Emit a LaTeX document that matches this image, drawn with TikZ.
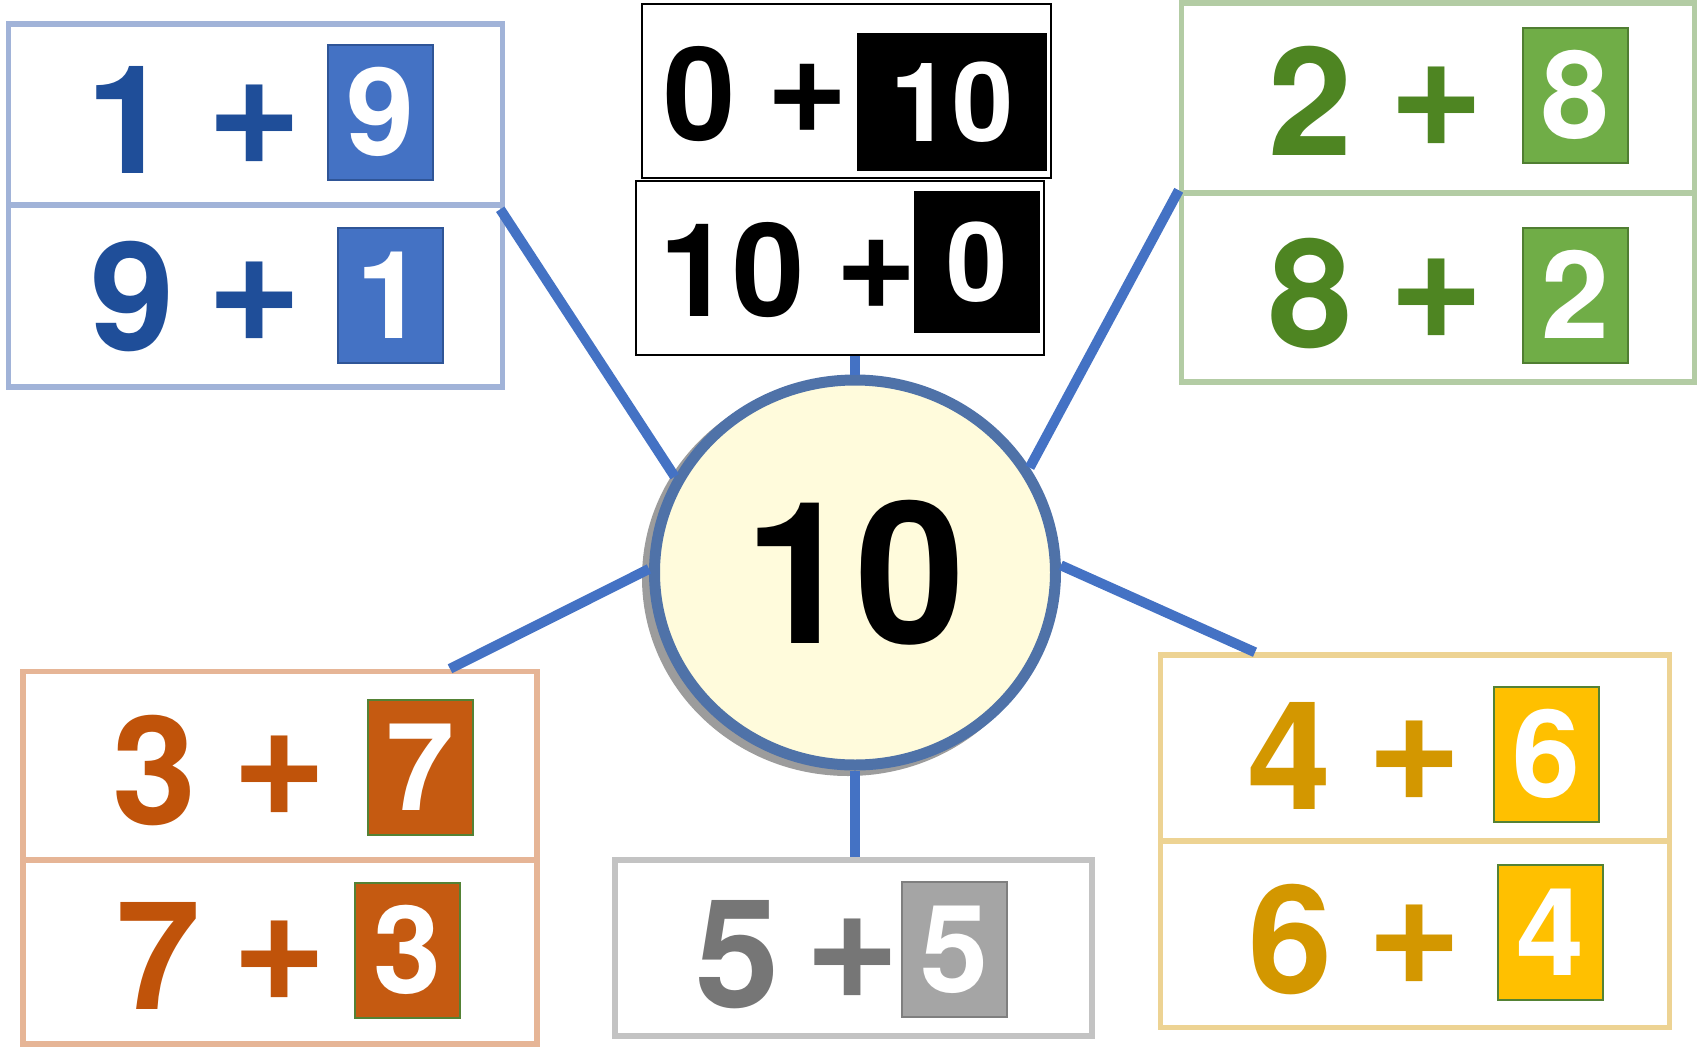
\documentclass[tikz,border=0pt]{standalone}
\usepackage{fontspec}
\setmainfont{TeX Gyre Heros}
\newfontfamily\plusfont{Liberation Sans}
\usetikzlibrary{calc,positioning,shapes.geometric}
\definecolor{linkblue}{HTML}{4472C4}
\definecolor{ringblue}{HTML}{4F72A8}
\definecolor{ringfill}{HTML}{FFFBDC}
\definecolor{shadegrey}{HTML}{9C9C9C}
\definecolor{blueFr}{HTML}{A1B3D8}\definecolor{blueTx}{HTML}{1F4E99}
\definecolor{blueFl}{HTML}{4472C4}\definecolor{blueBd}{HTML}{2F5597}
\definecolor{greenFr}{HTML}{B3CCA4}\definecolor{greenTx}{HTML}{4E8522}
\definecolor{greenFl}{HTML}{70AD47}\definecolor{greenBd}{HTML}{507E32}
\definecolor{orangeFr}{HTML}{E6B596}\definecolor{orangeTx}{HTML}{C0530A}
\definecolor{orangeFl}{HTML}{C55A11}\definecolor{orangeBd}{HTML}{548235}
\definecolor{greyFr}{HTML}{C3C3C3}\definecolor{greyTx}{HTML}{767676}
\definecolor{greyFl}{HTML}{A5A5A5}\definecolor{greyBd}{HTML}{7F7F7F}
\definecolor{goldFr}{HTML}{EDD393}\definecolor{goldTx}{HTML}{D39700}
\definecolor{goldFl}{HTML}{FFC000}\definecolor{goldBd}{HTML}{548235}
\tikzset{frame/.style={draw, line width=5.5pt, inner sep=0pt},
  num/.style={font=\bfseries\fontsize{#1}{#1}\selectfont, inner sep=0pt,
    text height={0.716*#1pt}, text depth=0pt},
  num/.default=151,
  plus/.style={num=#1, font=\plusfont\bfseries\fontsize{#1}{#1}\selectfont},
  plus/.default=151,
  ans/.style={num=#1, draw, line width=2pt, text=white,
    minimum width=105pt, minimum height=135pt},
  ans/.default=122,
  link/.style={draw=linkblue, line width=10pt}}

\begin{document}
\begin{tikzpicture}[x=1pt, y=-1pt]
  \useasboundingbox (0,0) rectangle (1701,1047);
  % frames, one per row
  \foreach \n/\g/\x/\y/\w/\h in {a1/blue/255.5/114.5/494/181, a2/blue/255.5/296/494/182,
      c1/green/1438/98/513/190, c2/green/1438/287.5/513/189,
      d1/orange/280/766/514/189, d2/orange/280/952/514/184,
      e/grey/853.5/948/477/176,
      f1/gold/1415/748/509/186, f2/gold/1415/934/509/187}
    \node[frame, draw=\g Fr, minimum width=\w, minimum height=\h] (\n) at (\x,\y) {};
  \node[frame, line width=2pt, minimum width=409, minimum height=174] (b1) at (846.5,91) {};
  \node[frame, line width=2pt, minimum width=408, minimum height=174] (b2) at (839.7,268) {};
  % sums: digit + boxed partner
  \foreach \n/\g/\dx/\px/\y/\d/\bx/\by/\b in {
      a1/blue/128/255/119/1/380/112/9, a2/blue/132/255/296/9/390/295/1,
      c1/green/1310/1437/101/2/1575/95/8, c2/green/1310/1437/293/8/1575/295/2,
      d1/orange/154/280/770/3/420/767/7, d2/orange/158/280/955/7/407/950/3,
      e/grey/737/853/953/5/954/949/5,
      f1/gold/1289/1415/755/4/1546/754/6, f2/gold/1290/1415/939/6/1550/932/4}{
    \node[num, text=\g Tx] (\n d) at (\dx,\y) {\d};
    \node[plus, text=\g Tx] (\n p) at (\px,\y) {+};
    \node[ans, fill=\g Fl, draw=\g Bd] (\n b) at (\bx,\by) {\b};
  }
  \node[num=130] (b1d) at (700,94) {0};
  \node[plus=130] (b1p) at (807,94) {+};
  \node[ans=110, fill=black, minimum width=188, minimum height=136] (b1b) at (952,102) {10};
  \node[num=130] (b2d) at (732,270) {10};
  \node[plus=130] (b2p) at (876.5,270) {+};
  \node[ans=110, fill=black, minimum width=124, minimum height=140] (b2b) at (977,262) {0};
  % centre
  \node[ellipse, fill=shadegrey, minimum width=412, minimum height=396, inner sep=0pt] (tenshade) at (848,578) {};
  \node[ellipse, draw=ringblue, line width=11pt, fill=ringfill, minimum width=401,
    minimum height=385, num=198] (ten) at (855,572.5) {10};
  \draw[link] ($(a2.north east)+(-5,7)$) -- (ten.152);
  \draw[link] (c2.north west) -- (ten.31);
  \draw[link] ($(d1.north)+(170,0)$) -- (ten.179);
  \draw[link] ($(f1.north)+(-160,0)$) -- (ten.2);
  \draw[link] (ten.north) -- (ten.north |- b2.south);
  \draw[link] (ten.south) -- (ten.south |- e.north);
\end{tikzpicture}
\end{document}
